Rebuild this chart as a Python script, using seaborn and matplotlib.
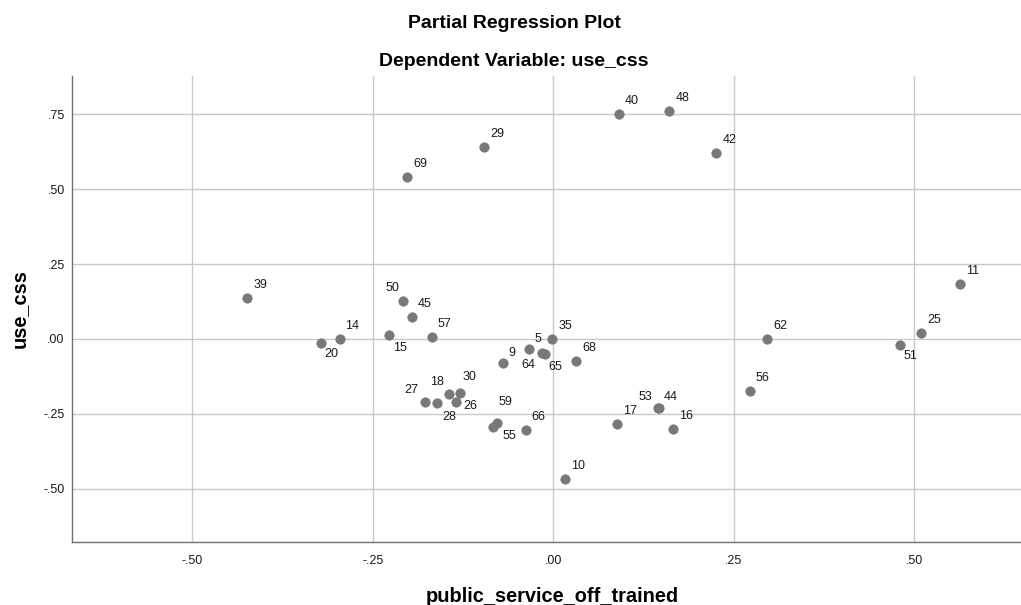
import matplotlib as mpl
mpl.use('agg')
import matplotlib.pyplot as plt
from matplotlib.ticker import FuncFormatter
import pandas as pd
import seaborn as sns

# case numbers and partial residuals
case_ids = [29, 69, 39, 50, 45, 14, 20, 15, 57, 5, 35, 40, 48, 42, 11, 25, 62, 51,
            64, 65, 9, 68, 30, 18, 27, 28, 26, 59, 55, 66, 17, 53, 44, 16, 10, 56]
x_resid = [-0.096, -0.202, -0.424, -0.208, -0.196, -0.296, -0.321, -0.227, -0.168, -0.034,
           -0.001, 0.091, 0.161, 0.226, 0.564, 0.510, 0.296, 0.481,
           -0.016, -0.012, -0.070, 0.032, -0.129, -0.144, -0.178, -0.161, -0.135, -0.078,
           -0.083, -0.038, 0.088, 0.145, 0.147, 0.166, 0.016, 0.272]
y_resid = [0.641, 0.541, 0.138, 0.126, 0.074, 0.000, -0.014, 0.012, 0.006, -0.032,
           0.000, 0.751, 0.761, 0.621, 0.182, 0.019, 0.000, -0.020,
           -0.046, -0.050, -0.081, -0.074, -0.180, -0.184, -0.210, -0.214, -0.211, -0.280,
           -0.292, -0.302, -0.284, -0.229, -0.231, -0.300, -0.468, -0.173]

x_ticks = [-0.50, -0.25, 0.00, 0.25, 0.50]
y_ticks = [-0.50, -0.25, 0.00, 0.25, 0.50, 0.75]

df = pd.DataFrame({'case': case_ids, 'x': x_resid, 'y': y_resid})

# label placement (pixels from point, ha); default is upper right
label_pos = {
    50: (-4, 13, 'right'), 20: (10, -11, 'center'), 15: (11, -13, 'center'),
    5: (9, 10, 'center'), 51: (10, -11, 'center'), 64: (-13, -12, 'center'),
    65: (11, -13, 'center'), 9: (6, 10, 'left'), 30: (2, 16, 'left'),
    18: (-12, 12, 'center'), 27: (-13, 12, 'center'), 28: (12, -14, 'center'),
    26: (8, -4, 'left'), 59: (2, 21, 'left'), 55: (16, -9, 'center'),
    53: (-12, 11, 'center'), 44: (4, 11, 'left'),
}

sns.set_style('white')
plt.rcParams['font.family'] = ['Liberation Sans', 'DejaVu Sans']
plt.rcParams['text.color'] = 'black'

fig = plt.figure(figsize=(10.21, 6.05), dpi=100)
ax = fig.add_axes([0.0702, 0.1036, 0.9298, 0.7708])

sns.scatterplot(data=df, x='x', y='y', ax=ax, color='#787878', s=46,
                edgecolor='#787878', linewidth=0.5, zorder=3)

for c, xv, yv in zip(case_ids, x_resid, y_resid):
    dx, dy, ha = label_pos.get(c, (6, 13, 'left'))
    ax.annotate(str(c), (xv, yv), xytext=(dx, dy), textcoords='offset pixels',
                ha=ha, va='center', fontsize=9, color='#1a1a1a')

ax.set_xlim(-0.667, 0.648)
ax.set_ylim(-0.678, 0.877)
ax.set_xticks(x_ticks)
ax.set_yticks(y_ticks)
fmt = FuncFormatter(lambda v, p: ('%.2f' % v).replace('0.', '.'))
ax.xaxis.set_major_formatter(fmt)
ax.yaxis.set_major_formatter(fmt)
ax.tick_params(length=0, labelsize=9, colors='#1a1a1a')
ax.tick_params(axis='x', pad=9)
ax.tick_params(axis='y', pad=5)
ax.grid(True, color='#c8c8c8', linewidth=1)
ax.set_axisbelow(True)
for side in ['top', 'right']:
    ax.spines[side].set_visible(False)
for side in ['left', 'bottom']:
    ax.spines[side].set_color('#707070')
    ax.spines[side].set_linewidth(1)
ax.set_xlabel('')
ax.set_ylabel('')

# titles and axis labels
fig.text(514 / 1021, 1 - 23 / 605, 'Partial Regression Plot', ha='center', va='center',
         fontsize=14, fontweight='bold')
fig.text(514 / 1021, 1 - 62 / 605, 'Dependent Variable: use_css', ha='center', va='center',
         fontsize=14, fontweight='bold')
fig.text(552 / 1021, 1 - 602 / 605, 'public_service_off_trained', ha='center',
         va='baseline', fontsize=14.4, fontweight='bold')
fig.text(19 / 1021, 1 - 309 / 605, 'use_css', ha='center', va='center', rotation=90,
         fontsize=14.4, fontweight='bold')

plt.savefig('out.png', dpi=100)
